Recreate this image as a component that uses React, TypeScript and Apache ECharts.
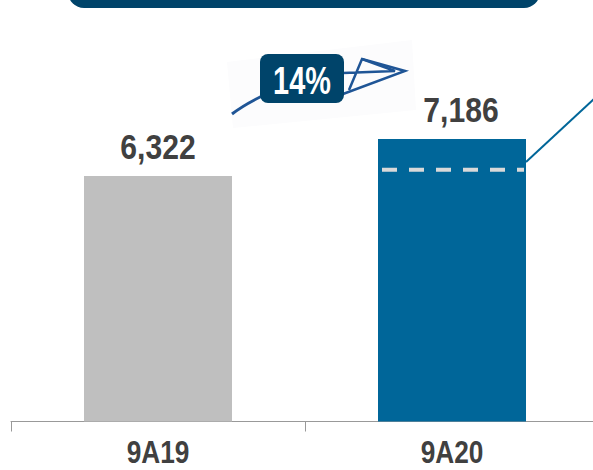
import React, { useEffect, useRef } from "react";
import * as echarts from "echarts";

const categories = ["9A19", "9A20"];
const amounts = [6322, 7186];
const barColors = ["#bfbfbf", "#006699"];
const dashedLevel = [7186 - 720];
const growthLabel = "14%";

const FONT = '"Liberation Sans", Arial, sans-serif';
const NAVY = "#00446a";
const INK = "#1f5596";

// Condensed bold text, since no narrow face is installed
const squeezedText = (text: string, x: number, y: number, size: number, squeeze: number, fill: string) => ({
  type: "text",
  x,
  y,
  scaleX: squeeze,
  style: {
    text,
    fill,
    font: `bold ${size}px ${FONT}`,
    textAlign: "center",
    textVerticalAlign: "middle",
  },
});

export default function App() {
  const ref = useRef<HTMLDivElement>(null);

  useEffect(() => {
    const chart = echarts.init(ref.current!, undefined, { renderer: "svg" });
    chart.setOption({
      animation: false,
      backgroundColor: "#ffffff",
      grid: { left: 11, right: 0, top: 0, height: 421.5 },
      xAxis: {
        type: "category",
        data: categories,
        axisLine: { lineStyle: { color: "#999999", width: 1 } },
        axisTick: { show: true, length: 10, lineStyle: { color: "#999999" } },
        axisLabel: { show: false },
      },
      yAxis: { type: "value", show: false, min: 590, max: 10432, splitLine: { show: false } },
      series: [
        {
          type: "bar",
          barWidth: 148,
          data: amounts.map((value, i) => ({ value, itemStyle: { color: barColors[i] } })),
        },
        {
          // Value labels above the bars and category labels under the axis
          type: "custom",
          coordinateSystem: "cartesian2d",
          clip: false,
          silent: true,
          data: categories.map((c, i) => [c, amounts[i]]),
          z: 6,
          renderItem: (params: any, api: any) => {
            const c = api.coord([api.value(0), api.value(1)]);
            // The second value sits right of centre, clear of the plane
            const labelShift = params.dataIndex === 1 ? 9 : 0;
            return {
              type: "group",
              children: [
                squeezedText(
                  amounts[params.dataIndex].toLocaleString("en-US"),
                  c[0] + labelShift,
                  c[1] - 29,
                  35,
                  0.86,
                  "#404040",
                ),
                squeezedText(categories[params.dataIndex], c[0], 452, 32, 0.82, "#404040"),
              ],
            };
          },
        },
        {
          // Dashed level inside the second bar
          type: "custom",
          coordinateSystem: "cartesian2d",
          data: [[categories[1], dashedLevel[0]]],
          z: 5,
          renderItem: (_: any, api: any) => {
            const c = api.coord([api.value(0), api.value(1)]);
            return {
              type: "line",
              shape: { x1: c[0] - 70, y1: c[1], x2: c[0] + 72, y2: c[1] },
              style: { stroke: "#d9d9d9", lineWidth: 4, lineDash: [15, 12], fill: "none" },
            };
          },
        },
      ],
      graphic: [
        // Header banner running off the top edge
        {
          type: "rect",
          shape: { x: 68, y: -30, width: 472, height: 38, r: 16 },
          style: { fill: NAVY },
        },
        // Connector leaving the second bar
        {
          type: "line",
          shape: { x1: 526, y1: 162, x2: 594, y2: 99 },
          style: { stroke: "#006699", lineWidth: 2 },
        },
        // Pale backing behind the paper plane
        {
          type: "polygon",
          shape: { points: [[227, 62], [412, 40], [416, 110], [233, 128]] },
          style: { fill: "#fcfcfd" },
        },
        // Paper plane with its trail
        {
          type: "bezierCurve",
          shape: { x1: 232, y1: 114, cpx1: 241, cpy1: 107, x2: 262, y2: 96, cpx2: 250, cpy2: 102 },
          style: { stroke: INK, lineWidth: 3, fill: "none" },
        },
        {
          type: "polyline",
          shape: { points: [[343, 73], [395, 71], [362, 59], [349, 90]] },
          style: { stroke: INK, lineWidth: 2.5, fill: "none" },
        },
        {
          type: "polyline",
          shape: { points: [[362, 59], [405, 71], [343, 94]] },
          style: { stroke: INK, lineWidth: 2.5, fill: "none" },
        },
        // Growth badge
        {
          type: "rect",
          shape: { x: 260, y: 54, width: 84, height: 49, r: 8 },
          style: { fill: NAVY },
        },
        {
          type: "text",
          x: 302,
          y: 80,
          scaleX: 0.76,
          style: {
            text: growthLabel,
            fill: "#ffffff",
            font: `bold 38px ${FONT}`,
            textAlign: "center",
            textVerticalAlign: "middle",
          },
        },
      ],
    });
    return () => chart.dispose();
  }, []);

  // The plot runs a few pixels past the right edge, so the frame crops it
  return (
    <div style={{ position: "fixed", left: 0, top: 0, width: 593, height: 470, overflow: "hidden" }}>
      <div ref={ref} style={{ width: 599, height: 470 }} />
    </div>
  );
}
